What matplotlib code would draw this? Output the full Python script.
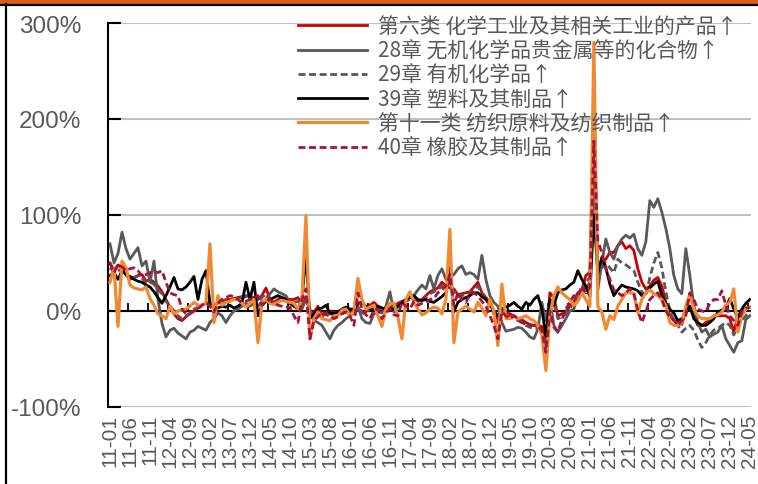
import matplotlib
matplotlib.use('Agg')
import matplotlib.pyplot as plt
from matplotlib.lines import Line2D
from matplotlib.patches import Rectangle

plt.rcParams['font.family'] = ['Liberation Sans', 'Noto Sans CJK SC', 'DejaVu Sans']

# monthly categories 2011-01 .. 2024-05
months = [f'{y % 100:02d}-{m:02d}' for y in range(2011, 2025) for m in range(1, 13)][:161]

# 第六类 化学工业及其相关工业的产品
chem = [50, 42, 48, 45, 38, 33, 35, 37, 38, 31, 33, 30,
        26, 20, 12, 4, -3, -8, -10, -6, -3, 0, 3, 6,
        8, 9, 6, 8, 10, 12, 12, 13, 14, 15, 16, 15,
        14, 12, 16, 24, 12, 9, 12, 14, 13, 12, 12, 14,
        6, 15, -1, -2, 5, -5, -2, -1, -2, -1, 1, 2,
        -2, -3, 2, 0, -1, 6, 9, 5, 3, 2, 4, 5,
        8, 10, 12, 14, 16, 10, 12, 16, 20, 22, 24, 30,
        26, 24, 23, 17, 18, 19, 20, 25, 30, 19, 14, 9,
        0, -9, 2, -1, -3, -5, -8, -9, -12, -14, -15, -15,
        -16, -36, 19, 14, -5, -3, -1, 5, 9, 19, 22, 37,
        40, 180, 44, 50, 54, 61, 61, 68, 72, 65, 68, 63,
        44, 30, 23, 26, 32, 35, 26, 9, -5, -10, -12, -14,
        0, 5, -5, -15, -15, -12, -10, -5, -5, -5, -5, -8,
        -22, -5, 0, 2, 4]

# 28章 无机化学品贵金属等的化合物
inorganic = [70, 50, 60, 82, 65, 54, 60, 66, 47, 52, 30, 52,
             12, -13, -27, -20, -18, -23, -26, -29, -22, -20, -16, -18,
             -20, -12, -8, -2, -5, -12, -5, 0, 2, 5, 8, 5,
             8, 5, 10, 12, 18, 23, 20, 18, 16, 8, 5, 3,
             2, 12, 2, -10, -12, -15, -22, -29, -20, -15, -12, -8,
             -5, 3, 5, -8, -12, -13, -3, -1, -2, 5, 20, -1,
             5, 8, 12, 15, 16, 22, 27, 23, 37, 23, 37, 44,
             33, 35, 38, 44, 47, 38, 40, 38, 33, 58, 33, 16,
             9, 5, -12, -21, -20, -19, -17, -18, -22, -27, -29, -19,
             9, -10, 12, -15, -22, -15, -8, 0, 2, 16, 20, 23,
             30, 230, 22, 50, 75, 61, 54, 68, 75, 79, 76, 80,
             65, 58, 72, 115, 108, 117, 103, 86, 65, 37, 23, 18,
             65, 37, 5, -12, -22, -19, -27, -24, -22, -15, -29, -36,
             -43, -33, -31, -9, -5]

# 29章 有机化学品
organic = [45, 40, 42, 44, 38, 32, 35, 36, 34, 30, 30, 28,
           22, 18, 10, 5, 0, -5, -8, -5, -2, 2, 4, 6,
           8, 10, 5, 8, 9, 11, 12, 12, 13, 14, 15, 14,
           12, 10, 14, 18, 10, 8, 10, 12, 11, 10, 9, 10,
           5, 14, -3, -4, 2, -6, -4, -3, -4, -3, 0, 0,
           -4, -5, 4, -2, -3, 3, 6, 3, 1, 0, 3, 4,
           6, 8, 10, 12, 14, 10, 11, 14, 18, 20, 22, 26,
           24, 30, 20, 15, 16, 17, 18, 22, 26, 17, 12, 6,
           -3, -12, 0, -3, -6, -8, -10, -12, -15, -17, -18, -18,
           -20, -35, 12, 8, -8, -6, -3, 3, 8, 15, 20, 30,
           35, 120, 40, 45, 50, 45, 40, 54, 50, 48, 45, 42,
           30, 20, 15, 35, 50, 61, 45, 20, 0, -10, -15, -22,
           -18, -15, -20, -30, -38, -33, -25, -20, -18, -15, -12, -15,
           -25, -15, -10, -5, 0]

# 39章 塑料及其制品
plastics = [37, 40, 33, 42, 38, 36, 33, 31, 30, 27, 25, 20,
            14, 8, 16, 25, 35, 23, 22, 25, 30, 36, 12, 33,
            42, 8, 5, 3, 5, 4, 6, 3, 5, 8, 30, 12,
            30, -5, 6, 10, 12, 14, 16, 14, 12, 8, 5, 2,
            12, 59, -8, -3, 2, 3, 6, -2, -3, -1, 2, 4,
            2, 2, 8, 9, 5, 2, 2, 5, 3, 2, 2, 2,
            5, 8, 12, 14, 16, 12, 11, 12, 10, 9, 12, 15,
            19, 45, -1, 9, 12, 14, 16, 19, 19, 15, 12, 6,
            0, -5, 2, 4, 6, 9, 5, 2, 9, 6, 12, 16,
            2, -26, 12, 6, 19, 22, 23, 27, 30, 42, 33, 26,
            15, 100, 40, 56, 45, 28, 16, 22, 27, 25, 24, 23,
            21, 16, 19, 24, 28, 31, 16, 8, 2, -2, -10, -8,
            -2, 5, -8, -12, -15, -15, -12, -8, -1, 1, 3, 13,
            2, -8, 2, 8, 12]

# 第十一类 纺织原料及纺织制品
textile = [30, 45, -16, 52, 45, 27, 24, 23, 22, 25, 13, 6,
           -3, -5, -8, 5, -3, 0, 1, 2, 5, 9, 6, 6,
           8, 70, -12, 16, 6, 9, 10, 12, 12, 8, 4, 8,
           12, -33, 9, 12, 8, 7, 9, 11, 10, 9, 8, 2,
           12, 99, -29, -8, -1, -8, -9, -10, -5, -5, 1, 2,
           -5, -1, 34, 12, 2, 4, 6, -5, -16, 2, 8, 8,
           -6, -29, 12, 20, 9, 2, -4, -2, 2, 4, 3, -3,
           12, 85, -33, -1, 2, 5, 2, -1, 9, 3, -5, 12,
           0, -36, 28, -8, -8, -5, -8, -7, -5, -8, -10, -15,
           -25, -62, -5, 16, 25, 19, 15, 12, 6, 10, 19, 12,
           5, 280, 5, -1, -19, -5, -9, 5, 12, 19, 19, 18,
           -2, 12, 19, 22, 18, 16, 12, 6, -12, -15, -15, -12,
           5, 17, 2, -5, -8, -8, -8, -5, -4, -1, 6, 9,
           23, -22, -5, 2, 4]

# 40章 橡胶及其制品
rubber = [50, 40, 48, 46, 42, 44, 45, 42, 36, 38, 40, 41,
          40, 42, 30, 19, 17, 16, 2, -3, -1, 0, 2, 6,
          9, 5, -1, 8, 12, 14, 16, 15, 12, 9, 10, 12,
          14, 16, 6, 10, 12, 8, 6, 5, 4, 4, -5, -12,
          12, 23, -29, -10, -6, -1, -4, -5, -8, -6, -3, -1,
          -5, -15, 19, 2, -4, -8, 1, 2, -8, -2, 2, -4,
          -5, 9, 5, 2, 10, 6, 8, 9, 12, 13, 19, 22,
          26, 38, 6, 19, 12, 9, 17, 19, 16, 10, 5, -5,
          -15, -29, -1, -5, -8, -5, -8, -12, -14, -15, -15, -16,
          -20, -43, 0, -17, -22, -9, 2, 9, 16, 15, 26, 19,
          25, 177, 73, 61, 44, 33, 22, 19, 16, 19, 23, 19,
          0, -12, -1, 12, 16, 19, 12, 0, -6, -9, -15, -10,
          -5, 19, 12, 2, 0, -1, 8, 12, 12, 21, 6, -5,
          -10, -15, -1, 3, 4]

names = ['第六类 化学工业及其相关工业的产品↑', '28章 无机化学品贵金属等的化合物↑',
         '29章 有机化学品↑', '39章 塑料及其制品↑', '第十一类 纺织原料及纺织制品↑',
         '40章 橡胶及其制品↑']
series = [chem, inorganic, organic, plastics, textile, rubber]
colors = ['#CC0000', '#595959', '#595959', '#000000', '#F08A32', '#A8123E']
styles = ['-', '-', '--', '-', '-', '--']

W, H = 758, 485
fig = plt.figure(figsize=(W / 100, H / 100), dpi=100)
ax = fig.add_axes([108 / W, 1 - 408 / H, (751 - 108) / W, 384 / H])

x = list(range(len(months)))
for vals, c, ls, lab in zip(series, colors, styles, names):
    kw = dict(dashes=(2.5, 1.3)) if ls == '--' else {}
    ax.plot(x, vals, color=c, lw=2.0 if c != '#F08A32' else 2.3, label=lab, zorder=3, **kw)

ax.set_xlim(-0.5, 160.3)
ax.set_ylim(-100, 300)
ax.set_yticks([-100, 0, 100, 200, 300])
ax.set_yticklabels([f'{v}%' for v in [-100, 0, 100, 200, 300]])
ax.yaxis.grid(True, color='#C0C0C0', lw=1.5)
ax.set_axisbelow(True)
ax.axhline(0, color='black', lw=1.5, zorder=2)

for s in ['top', 'right', 'bottom']:
    ax.spines[s].set_visible(False)
ax.spines['left'].set_linewidth(1.5)
ax.tick_params(axis='y', direction='in', length=9, width=1.5, pad=19,
               labelsize=17.5, labelcolor='#595959')
ax.set_xticks(x[::5])
ax.set_xticklabels(months[::5], rotation=90, fontsize=15, color='#595959')
ax.tick_params(axis='x', length=0, pad=5)

# tick marks on the zero line
zax = ax.secondary_xaxis(0, transform=ax.transData)
zax.set_xticks([i - 0.5 for i in range(5, 161, 5)])
zax.tick_params(direction='in', length=6, width=1.3, labelbottom=False)
zax.spines['bottom'].set_visible(False)

ax.legend(loc='upper left', bbox_to_anchor=(298 / W, 1 - 16.5 / H), bbox_transform=fig.transFigure,
          frameon=False, borderpad=0, borderaxespad=0, handlelength=3.3, handletextpad=0.55,
          labelspacing=0.11,
          prop={'family': ['Noto Sans CJK SC', 'DejaVu Sans'], 'size': 15},
          labelcolor='#595959')

# outer frame pieces
fig.add_artist(Rectangle((0, 1 - 4.5 / H), 1, 4.5 / H, transform=fig.transFigure,
                         color='#D9601A', lw=0))
fig.add_artist(Line2D([0, 1], [1 - 5.5 / H] * 2, transform=fig.transFigure, color='black', lw=1.6))
fig.add_artist(Line2D([6 / W] * 2, [0, 1 - 5 / H], transform=fig.transFigure, color='black', lw=1.6))

fig.savefig('out.png', dpi=100)
